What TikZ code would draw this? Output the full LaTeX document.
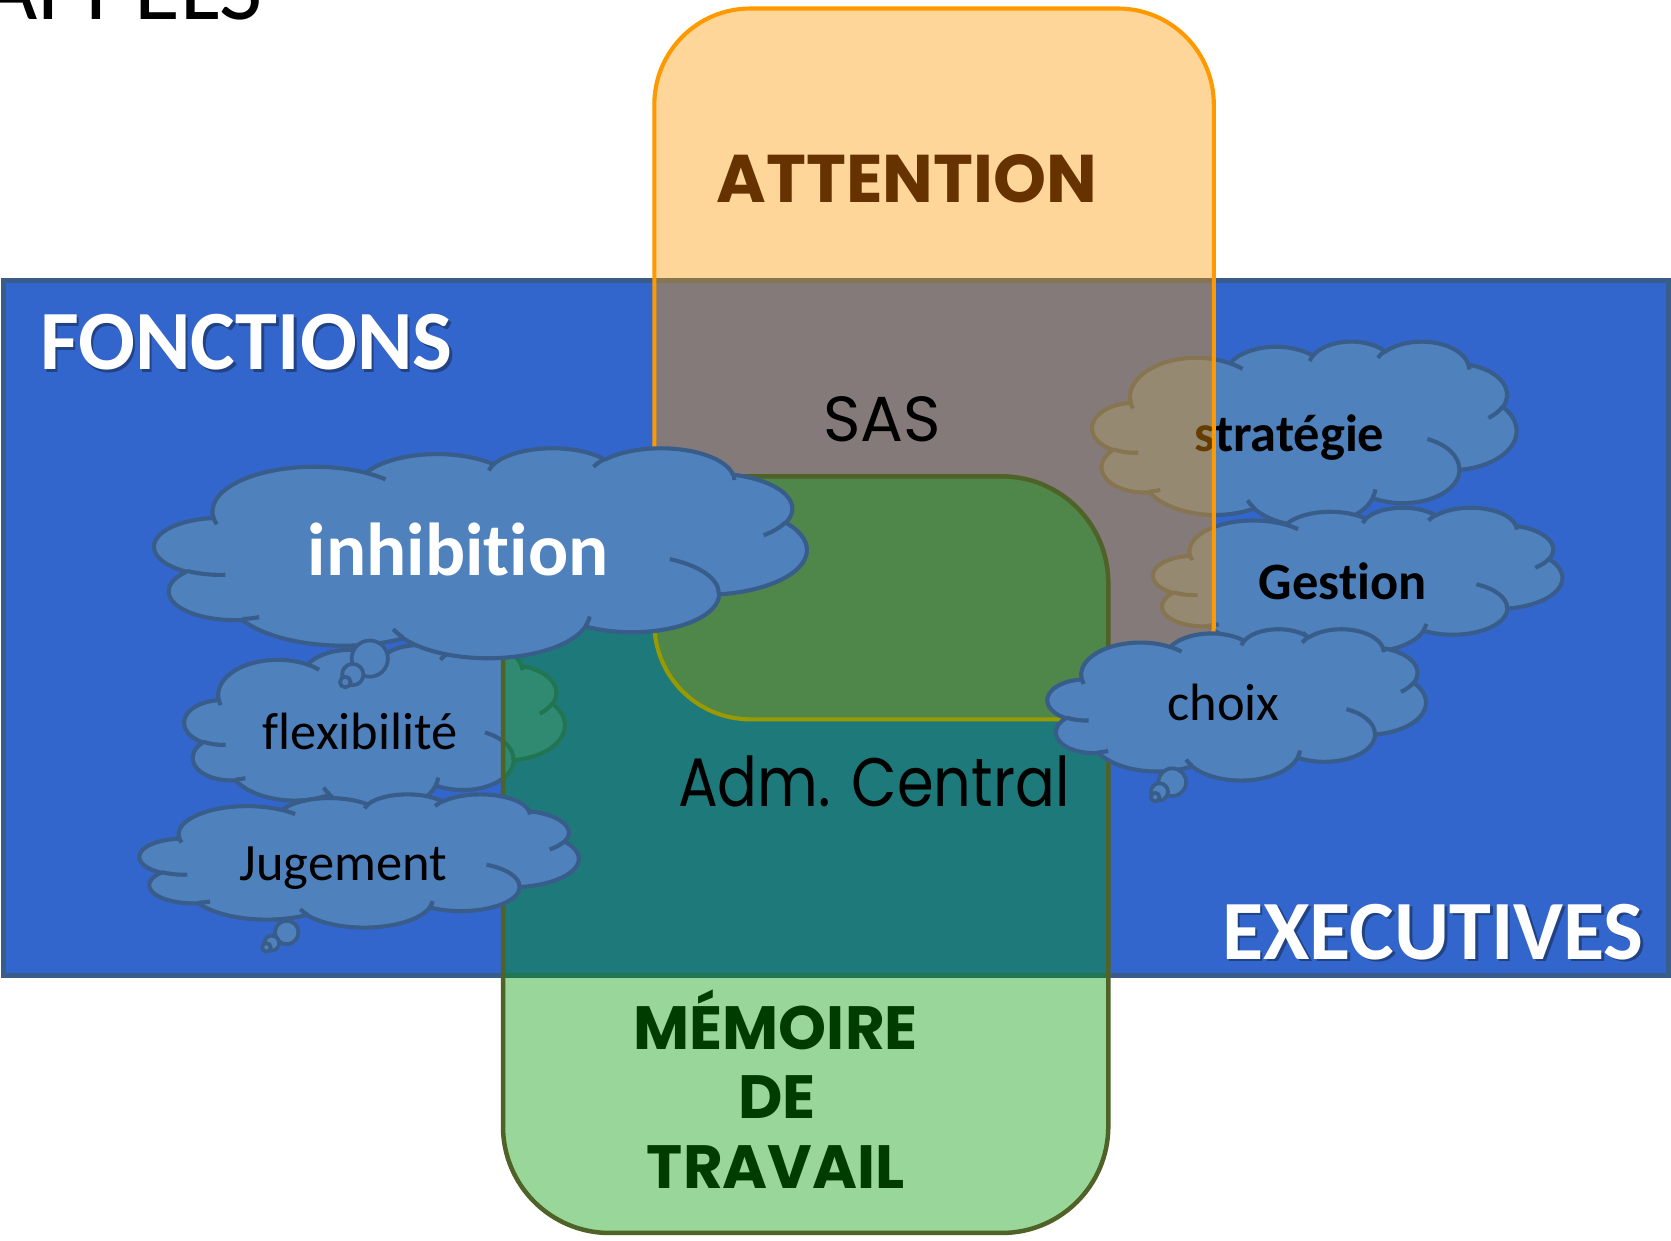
\documentclass[tikz,border=0pt]{standalone}
\usepackage{fontspec}
\setmainfont[Ligatures=NoCommon]{Carlito}
\newfontfamily\comicfont[Ligatures=NoCommon]{Poppins}
\definecolor{bluefill}{HTML}{3366CC}
\definecolor{blueline}{HTML}{385D8A}
\definecolor{cloudfill}{HTML}{4F81BD}
\definecolor{orangeline}{HTML}{FF9900}
\definecolor{greenfill}{HTML}{009900}
\definecolor{greenline}{HTML}{4F6228}
\definecolor{attcol}{HTML}{663300}
\definecolor{memcol}{HTML}{003C00}
\tikzset{
  cloudshape/.style={fill=cloudfill,draw=blueline,line width=1.1pt,line join=round},
  cloudinner/.style={draw=blueline,line width=1.1pt},
  bubble/.style={fill=cloudfill,draw=blueline,line width=1.0pt},
  lbl/.style={inner sep=0pt,anchor=base},
  cloudtxt/.style={lbl,font=\fontsize{14}{16}\selectfont,text=black},
  cloudbold/.style={lbl,font=\fontsize{14}{16}\selectfont\bfseries,text=black},
  bigwhite/.style={lbl,font=\fontsize{22.5}{26}\selectfont\bfseries,text=white},
  shadowtxt/.style={lbl,font=\fontsize{22.5}{26}\selectfont\bfseries,text=black,text opacity=0.35},
  comicbold/.style={lbl,font=\comicfont\bfseries\fontsize{16.3}{20}\selectfont,text=memcol},
}
\newcommand\pcloud[4]{%
  \begin{scope}[shift={(#1,#2)},xscale=#3/432,yscale=#4/432]
    \path[cloudshape] (39.00,143.70)
      arc[start angle=-187.75,end angle=-59.64,x radius=67.53,y radius=91.90]
      arc[start angle=-152.03,end angle=-45.46,x radius=53.33,y radius=72.67]
      arc[start angle=-153.49,end angle=-37.33,x radius=43.65,y radius=59.45]
      arc[start angle=-139.71,end angle=-10.21,x radius=48.57,y radius=65.95]
      arc[start angle=-74.77,end angle=23.21,x radius=53.33,y radius=72.73]
      arc[start angle=-37.51,end angle=81.86,x radius=67.75,y radius=92.20]
      arc[start angle=0.46,end angle=121.98,x radius=57.85,y radius=78.67]
      arc[start angle=16.84,end angle=146.23,x radius=67.52,y radius=92.15]
      arc[start angle=58.98,end angle=150.20,x radius=77.20,y radius=105.43]
      arc[start angle=-276.69,end angle=-136.89,x radius=43.60,y radius=59.18]
      arc[start angle=-239.65,end angle=-95.89,x radius=43.45,y radius=59.45]
      -- cycle;
    \path[cloudinner]
      (46.93,261.77) arc[start angle=85.55,end angle=120.35,x radius=43.45,y radius=59.45]
      (69.28,348.99) arc[start angle=68.23,end angle=83.31,x radius=43.60,y radius=59.18]
      (164.78,390.90) arc[start angle=146.23,end angle=158.47,x radius=67.52,y radius=92.15]
      (288.27,347.51) arc[start angle=4.74,end angle=16.84,x radius=67.52,y radius=92.15]
      (341.29,229.54) arc[start angle=-64.03,end angle=0.46,x radius=57.85,y radius=78.67]
      (417.98,153.54) arc[start angle=23.21,end angle=49.65,x radius=53.33,y radius=72.73]
      (383.24,54.26) arc[start angle=-10.21,end angle=0.82,x radius=48.57,y radius=65.95]
      (290.78,39.52) arc[start angle=-156.28,end angle=-139.71,x radius=48.57,y radius=65.95]
      (221.41,47.20) arc[start angle=-167.73,end angle=-153.49,x radius=43.65,y radius=59.45]
      (140.00,51.92) arc[start angle=-59.64,end angle=-45.74,x radius=67.53,y radius=91.90]
      (41.27,157.89) arc[start angle=163.19,end angle=172.25,x radius=67.53,y radius=91.90];
  \end{scope}}
\begin{document}
\begin{tikzpicture}[x=0.01cm,y=-0.01cm]
\useasboundingbox (0,0) rectangle (1568,1164);
\clip (0,0) rectangle (1568,1164);
\fill[white] (0,0) rectangle (1568,1164);
\node[lbl,font=\fontsize{25}{30}\selectfont,anchor=base east] (rappels) at (247,18) {RAPPELS};
% blue band
\draw[fill=bluefill,draw=blueline,line width=1.3pt] (3,263) rectangle (1566,915);
% clouds under the boxes
\pcloud{173}{605}{357}{155}
\node[cloudtxt] (flex) at (338,703) {flexibilité};
\pcloud{1025}{320}{398}{173}
\node[cloudbold] (strat) at (1210,424) {stratégie};
\pcloud{1082}{476}{384}{136}
\node[cloudbold] (gest) at (1260,563) {Gestion};
% attention box
\draw[draw=orangeline,fill=orangeline,fill opacity=0.4,line width=1.1pt,rounded corners=0.9cm] (614,8) rectangle (1139,675);
% working memory box
\draw[draw=greenline,fill=greenfill,fill opacity=0.4,line width=1.2pt,rounded corners=1cm] (472,447) rectangle (1040,1157);
% clouds above the boxes
\pcloud{983}{590}{355}{142}
\draw[bubble] (1100,734) circle[radius=13];
\draw[bubble] (1088,743) circle[radius=8];
\draw[bubble] (1084,748) circle[radius=4];
\node[cloudtxt] (choix) at (1148,676) {choix};
\pcloud{145}{420}{612}{197}
\draw[bubble] (347,618) circle[radius=17];
\draw[bubble] (331,633) circle[radius=10];
\draw[bubble] (324,640) circle[radius=5];
\node[lbl,font=\fontsize{20}{24}\selectfont\bfseries,text=white] (inhib) at (430,540) {inhibition};
\pcloud{131}{745}{412}{125}
\draw[bubble] (269,875) circle[radius=11];
\draw[bubble] (255,885) circle[radius=7];
\draw[bubble] (250,889) circle[radius=4];
\node[cloudtxt] (jug) at (322,826) {Jugement};
% titles
\node[shadowtxt,anchor=base west] (fonctionsshadow) at (39.5,349.5) {FONCTIONS};
\node[bigwhite,anchor=base west] (fonctions) at (37,347) {FONCTIONS};
\node[shadowtxt,anchor=base east] (executivesshadow) at (1545.5,902.5) {EXECUTIVES};
\node[bigwhite,anchor=base east] (executives) at (1543,900) {EXECUTIVES};
\node[lbl,font=\comicfont\bfseries\fontsize{18}{22}\selectfont,text=attcol] (attention) at (851,190) {ATTENTION};
\node[lbl,font=\comicfont\fontsize{17}{20}\selectfont] (sas) at (828,414) {SAS};
\node[lbl,font=\comicfont\fontsize{18.3}{22}\selectfont] (adm) at (820,757) {\scalebox{0.86}[1]{Adm. Central}};
\node[comicbold] (mem1) at (728,985) {MÉMOIRE};
\node[comicbold] (mem2) at (729,1050) {DE};
\node[comicbold] (mem3) at (728,1115) {TRAVAIL};
\end{tikzpicture}
\end{document}
